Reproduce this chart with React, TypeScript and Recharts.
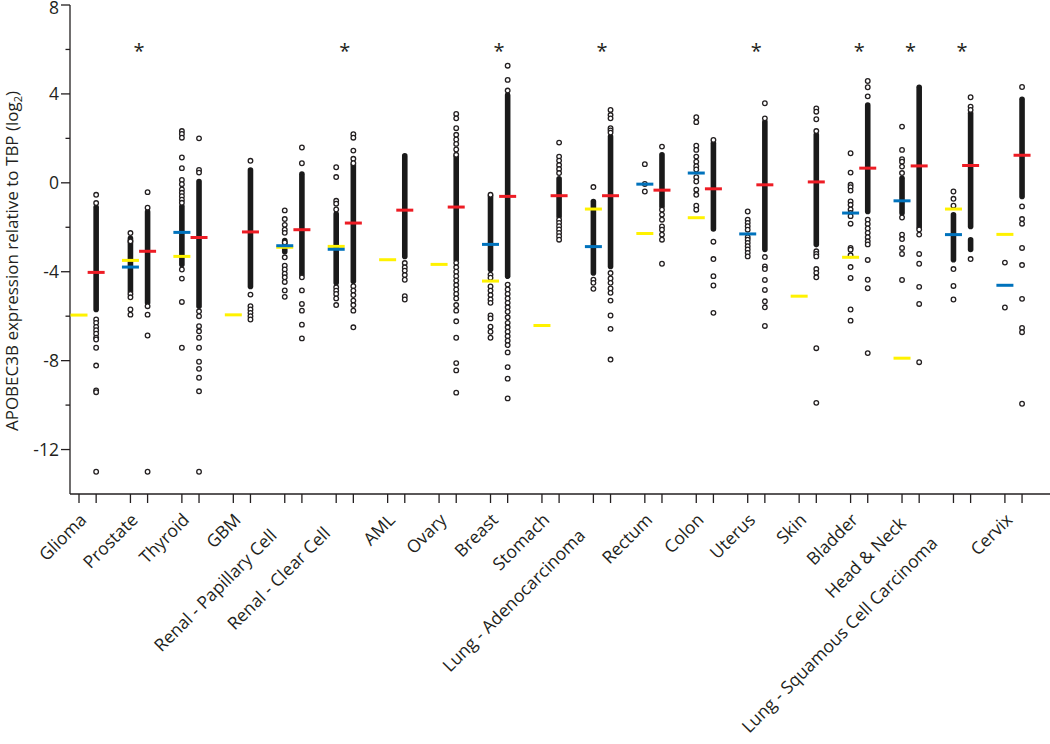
import React from "react";
import { ComposedChart, Scatter, XAxis, YAxis } from "recharts";

const tissues = [
  "Glioma", "Prostate", "Thyroid", "GBM", "Renal - Papillary Cell", "Renal - Clear Cell",
  "AML", "Ovary", "Breast", "Stomach", "Lung - Adenocarcinoma", "Rectum", "Colon",
  "Uterus", "Skin", "Bladder", "Head & Neck", "Lung - Squamous Cell Carcinoma", "Cervix",
];

// tissues marked with an asterisk
const significant = [1, 5, 8, 10, 13, 15, 16, 17];
const starLevel = 6.12;

// medians (log2): normal tissue (blue), cell lines (yellow), tumour (red)
const normalMedian = [null, -3.79, -2.23, null, -2.83, -2.99, null, null, -2.77, null, -2.87, -0.06, 0.44, -2.3, null, -1.36, -0.81, -2.33, -4.61];
const cellLine = [-5.95, -3.49, -3.31, -5.94, -2.9, -2.86, -3.46, -3.67, -4.42, -6.42, -1.18, -2.28, -1.57, null, -5.1, -3.35, -7.89, -1.18, -2.32];
const tumorMedian = [-4.03, -3.08, -2.46, -2.21, -2.11, -1.81, -1.23, -1.09, -0.61, -0.58, -0.58, -0.33, -0.27, -0.09, 0.04, 0.66, 0.76, 0.78, 1.24];

// stretches where the samples overlap into a solid column [top, bottom]
const normalDense: [number, number][][] = [
  [], [[-2.5, -4.9]], [[-1.06, -3.68]], [], [[-2.6, -3.1]], [[-1.4, -4.5]], [], [],
  [[-0.6, -3.9]], [], [[-0.84, -4.06]], [], [], [], [], [], [[0.2, -1.36]], [[-1.44, -3.46]], [],
];
const tumorDense: [number, number][][] = [
  [[-1.1, -5.7]], [[-1.3, -5.4]], [[0.06, -5.55]], [[0.58, -4.66]], [[0.39, -4.13]],
  [[0.8, -4.43]], [[1.21, -3.31]], [[1.2, -3.46]], [[3.95, -4.2]], [[0.18, -1.51]],
  [[2.08, -3.76]], [[1.26, -1.06]], [[1.78, -2.08]], [[2.75, -3.0]], [[2.16, -2.78]],
  [[3.5, -1.29]], [[4.3, -2.0]], [[3.13, -1.96], [-2.56, -3.0]], [[3.76, -0.61]],
];

// individual samples outside the solid stretches
const normalDots: number[][] = [
  [],
  [-2.26, -2.63, -5.0, -5.15, -5.7, -5.93],
  [2.33, 2.2, 2.03, 1.14, 0.66, 0.13, -0.06, -0.3, -0.45, -0.6, -0.76, -0.9, -3.9, -4.31, -5.36, -7.42],
  [],
  [-1.24, -1.63, -1.89, -2.11, -2.25, -2.68, -3.35, -3.73, -3.9, -4.09, -4.25, -4.46, -4.84, -5.13],
  [0.7, 0.26, -0.81, -0.94, -1.2, -4.7, -4.85, -5.0, -5.2, -5.5],
  [],
  [],
  [-0.54, -4.13, -4.27, -4.66, -4.85, -5.05, -5.25, -5.4, -5.97, -6.1, -6.47, -6.7, -6.97],
  [],
  [-0.19, -4.36, -4.5, -4.77],
  [0.84, -0.05, -0.39],
  [2.95, 2.73, 1.67, 1.48, 1.18, 0.95, 0.75, 0.6, 0.25, 0.06, -0.31, -0.54, -1.03, -1.21],
  [-1.29, -1.66, -1.8, -1.95, -2.11, -2.45, -2.56, -2.7, -2.85, -3.0, -3.15, -3.31],
  [],
  [1.33, 0.46, -0.09, -0.2, -0.35, -0.84, -0.99, -1.2, -1.36, -1.5, -1.84, -2.93, -3.01, -3.26, -3.79, -4.28, -5.7, -6.2],
  [2.53, 1.48, 1.06, 0.95, 0.73, 0.44, -1.56, -2.33, -2.53, -2.93, -3.2, -4.37],
  [-0.39, -0.72, -1.03, -3.88, -4.64, -5.25],
  [-3.59, -5.61],
];
const tumorDots: number[][] = [
  [-0.54, -0.91, -6.15, -6.3, -6.48, -6.63, -6.79, -6.97, -7.05, -7.42, -8.22, -9.34, -9.42, -13.0],
  [-0.42, -1.12, -5.55, -5.93, -6.87, -13.0],
  [2.0, 0.58, 0.46, -5.78, -6.0, -6.45, -6.68, -6.97, -7.42, -8.05, -8.37, -8.77, -9.38, -13.0],
  [0.99, -5.03, -5.55, -5.7, -5.85, -6.0, -6.15],
  [1.59, 0.88, -4.25, -4.84, -5.45, -5.75, -6.38, -7.0],
  [2.19, 2.03, 1.45, 1.08, 0.88, -4.65, -4.85, -5.05, -5.3, -5.5, -5.75, -6.5],
  [-3.61, -3.8, -3.95, -4.15, -4.36, -5.1, -5.25],
  [3.1, 2.9, 2.46, 2.16, 1.95, 1.75, 1.5, 1.26, -3.6, -3.8, -4.0, -4.2, -4.4, -4.6, -4.8, -5.0, -5.2, -5.5, -5.75, -6.23, -6.97, -8.11, -8.44, -9.44],
  [5.27, 4.63, 4.15, -4.58, -4.8, -5.0, -5.2, -5.4, -5.6, -5.8, -6.05, -6.3, -6.5, -6.7, -6.9, -7.1, -7.3, -7.63, -8.29, -8.81, -9.7],
  [1.81, 1.18, 1.0, 0.8, 0.62, 0.44, -1.66, -1.8, -1.95, -2.1, -2.25, -2.4, -2.56],
  [3.28, 3.05, 2.9, 2.46, 2.36, 2.26, -4.06, -4.3, -4.5, -4.75, -4.95, -5.3, -5.97, -6.57, -7.95],
  [1.63, -1.21, -1.43, -1.66, -1.96, -2.11, -2.33, -2.56, -3.64],
  [1.93, -2.65, -3.43, -4.2, -4.62, -5.85],
  [3.58, 2.9, -3.34, -3.76, -3.88, -4.37, -4.82, -5.33, -5.6, -6.44],
  [3.35, 3.2, 2.86, 2.33, -3.08, -3.2, -3.31, -3.88, -4.05, -4.25, -7.44, -9.9],
  [4.58, 4.3, 3.89, -1.66, -1.85, -2.05, -2.25, -2.45, -2.63, -2.77, -3.47, -4.36, -4.74, -7.66],
  [-2.1, -2.33, -3.2, -3.64, -4.68, -5.45, -8.07],
  [3.85, 3.43, 3.28, -3.43],
  [4.31, -1.06, -1.63, -1.84, -2.93, -3.7, -5.22, -6.53, -6.72, -9.94],
];

const yTicks = [-14, -12, -10, -8, -6, -4, -2, 0, 2, 4, 6, 8];

const FONT = "'Open Sans', sans-serif";
const INK = "#231f20";
const RED = "#ed1c24";
const BLUE = "#0072bc";
const YELLOW = "#fff200";

// long labels are slid back along their baseline so they don't collide
const labelNudge: Record<string, number> = {
  "Renal - Papillary Cell": 22,
  "Renal - Clear Cell": 19,
  "Lung - Adenocarcinoma": 22,
  "Head & Neck": 5,
  "Lung - Squamous Cell Carcinoma": 33,
};

// each tissue takes 3 x-units: normal column at 3i, tumour column at 3i+1
const leftX = (i: number) => 3 * i;
const rightX = (i: number) => 3 * i + 1;

const xTicks = tissues.flatMap((_, i) => [leftX(i), leftX(i) + 0.5, rightX(i)]);

const toPoints = (cols: number[][], xf: (i: number) => number) =>
  cols.flatMap((vals, i) => vals.map((v) => ({ x: xf(i), y: v })));

const toMedians = (vals: (number | null)[], xf: (i: number) => number) =>
  vals.flatMap((v, i) => (v === null ? [] : [{ x: xf(i), y: v }]));

const segments = [
  ...normalDense.flatMap((segs, i) => segs.map(([a, b]) => [{ x: leftX(i), y: a }, { x: leftX(i), y: b }])),
  ...tumorDense.flatMap((segs, i) => segs.map(([a, b]) => [{ x: rightX(i), y: a }, { x: rightX(i), y: b }])),
];

const dotData = [...toPoints(normalDots, leftX), ...toPoints(tumorDots, rightX)];
const starData = significant.map((i) => ({ x: leftX(i) + 0.5, y: starLevel }));

const Dot = (props: any) => (
  <circle cx={props.cx} cy={props.cy} r={2.3} fill="#fff" stroke={INK} strokeWidth={1.3} />
);

const medianShape = (color: string) => (props: any) => (
  <line x1={props.cx - 8.5} x2={props.cx + 8.5} y1={props.cy} y2={props.cy} stroke={color} strokeWidth={3} />
);

const Star = (props: any) => (
  <text x={props.cx} y={props.cy + 11} textAnchor="middle" fontSize={20} fontFamily={FONT} fill={INK}>
    *
  </text>
);

const YTick = (props: any) => {
  const { x, y, payload } = props;
  const v = payload.value;
  if (v === -14) return <g />;
  const major = v % 4 === 0;
  return (
    <g>
      <line x1={x - (major ? 9 : 4.5)} x2={x} y1={y} y2={y} stroke={INK} strokeWidth={1.3} />
      {major && (
        <text x={x - 11} y={y} dy={v === 8 ? 9 : 6.5} textAnchor="end" fontSize={17.5} fontFamily={FONT} fill={INK}>
          {v}
        </text>
      )}
    </g>
  );
};

const XTick = (props: any) => {
  const { x, y, payload } = props;
  const v = payload.value;
  if (Math.abs(v % 3 - 0.5) < 0.01) {
    const label = tissues[Math.round((v - 0.5) / 3)];
    const ty = y + 27;
    const nudge = labelNudge[label] || 0;
    return (
      <text x={x - nudge} y={ty} transform={`rotate(-45 ${x} ${ty})`} textAnchor="end" fontSize={17.5} fontFamily={FONT} fill={INK}>
        {label}
      </text>
    );
  }
  return <line x1={x} x2={x} y1={y} y2={y + 9} stroke={INK} strokeWidth={1.3} />;
};

const YLabel = () => (
  <text x={18} y={261} transform="rotate(-90 18 261)" textAnchor="middle" fontSize={17} fontFamily={FONT} fill={INK}>
    APOBEC3B expression relative to TBP (log
    <tspan dy={4} fontSize={11}>2</tspan>
    <tspan dy={-4}>)</tspan>
  </text>
);

export default function App() {
  return (
    <div style={{ position: "absolute", left: 0, top: 0, background: "#fff" }}>
      <ComposedChart width={1050} height={744} margin={{ top: 5, right: 0, bottom: 0, left: 0 }}>
        <XAxis
          type="number"
          dataKey="x"
          domain={[-0.525, 56.63]}
          ticks={xTicks}
          interval={0}
          height={250}
          tickSize={0}
          tickMargin={0}
          tickLine={false}
          axisLine={{ stroke: INK, strokeWidth: 1.3 }}
          tick={<XTick />}
          allowDataOverflow
        />
        <YAxis
          type="number"
          dataKey="y"
          domain={[-14, 8]}
          ticks={yTicks}
          interval={0}
          width={70}
          tickSize={0}
          tickMargin={0}
          tickLine={false}
          axisLine={{ stroke: INK, strokeWidth: 1.3 }}
          tick={<YTick />}
          label={<YLabel />}
          allowDataOverflow
        />
        {segments.map((seg, k) => (
          <Scatter
            key={`seg-${k}`}
            data={seg}
            line={{ stroke: "#1a1a1a", strokeWidth: 5.6, strokeLinecap: "round" }}
            shape={() => <g />}
            isAnimationActive={false}
          />
        ))}
        <Scatter data={dotData} shape={<Dot />} isAnimationActive={false} />
        <Scatter data={toMedians(cellLine, leftX)} shape={medianShape(YELLOW)} isAnimationActive={false} />
        <Scatter data={toMedians(normalMedian, leftX)} shape={medianShape(BLUE)} isAnimationActive={false} />
        <Scatter data={toMedians(tumorMedian, rightX)} shape={medianShape(RED)} isAnimationActive={false} />
        <Scatter data={starData} shape={<Star />} isAnimationActive={false} />
      </ComposedChart>
    </div>
  );
}
